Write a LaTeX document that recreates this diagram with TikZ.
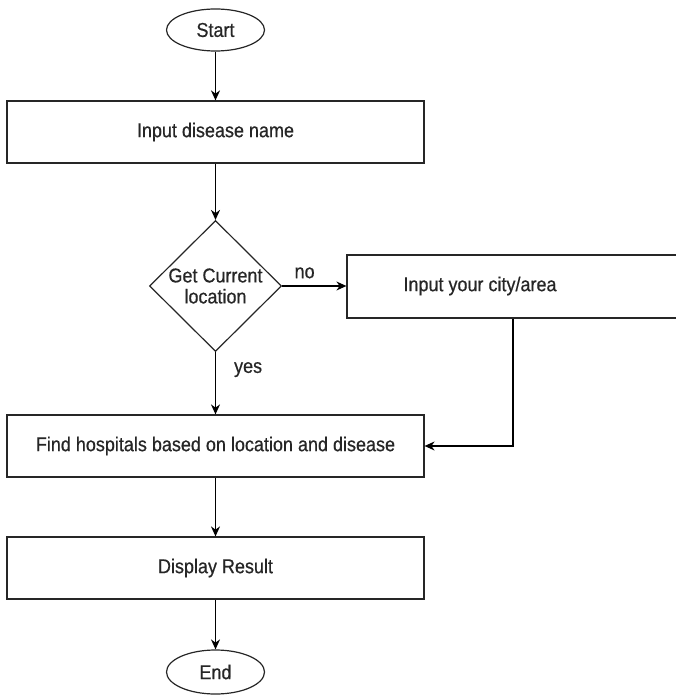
\documentclass[tikz,border=0pt]{standalone}
\usepackage{fontspec}
\setmainfont{Liberation Sans}[FakeStretch=0.9,FakeBold=0.6]
\usetikzlibrary{shapes.geometric,arrows.meta}
\begin{document}
\begin{tikzpicture}[x=1pt,y=-1pt,
  base/.style={draw=black!85,line width=1.2pt,inner sep=0pt,text=black!85,font=\fontsize{20}{22}\selectfont},
  term/.style={base,ellipse,minimum width=98pt,minimum height=42pt},
  proc/.style={base,rectangle,minimum width=417pt,minimum height=62pt},
  dec/.style={base,diamond,minimum width=132pt,minimum height=131pt,align=center},
  lbl/.style={text=black!85,font=\fontsize{20}{22}\selectfont,inner sep=0pt},
  flow/.style={draw=black,line width=1.2pt,-{Stealth[length=10pt,width=9pt]}}]
\useasboundingbox (0,0) rectangle (675,695);
\node[term] (start) at (215.5,30) {Start};
\node[proc] (input) at (215.5,132) {Input disease name};
\node[dec] (loc) at (215.5,286) {Get Current\\[-1pt]location};
\node[base,rectangle,minimum width=370pt,minimum height=63pt] (city) at (532,286.5) {};
\node[lbl] at (480,286) {Input your city/area};
\node[proc] (find) at (215.5,446) {Find hospitals based on location and disease};
\node[proc] (disp) at (215.5,568) {Display Result};
\node[term,minimum height=44pt] (end) at (215.5,672) {End};
\draw[flow] (start) -- (input);
\draw[flow] (input) -- (loc);
\draw[flow] (loc.east) -- (city.west |- loc.east) node[lbl,pos=0.35,above=7pt] {no};
\draw[flow] (loc) -- (find) node[lbl,pos=0.28,right=18pt] {yes};
\draw[flow] (city.south -| 513,0) |- (find.east);
\draw[flow] (find) -- (disp);
\draw[flow] (disp) -- (end);
\end{tikzpicture}
\end{document}
